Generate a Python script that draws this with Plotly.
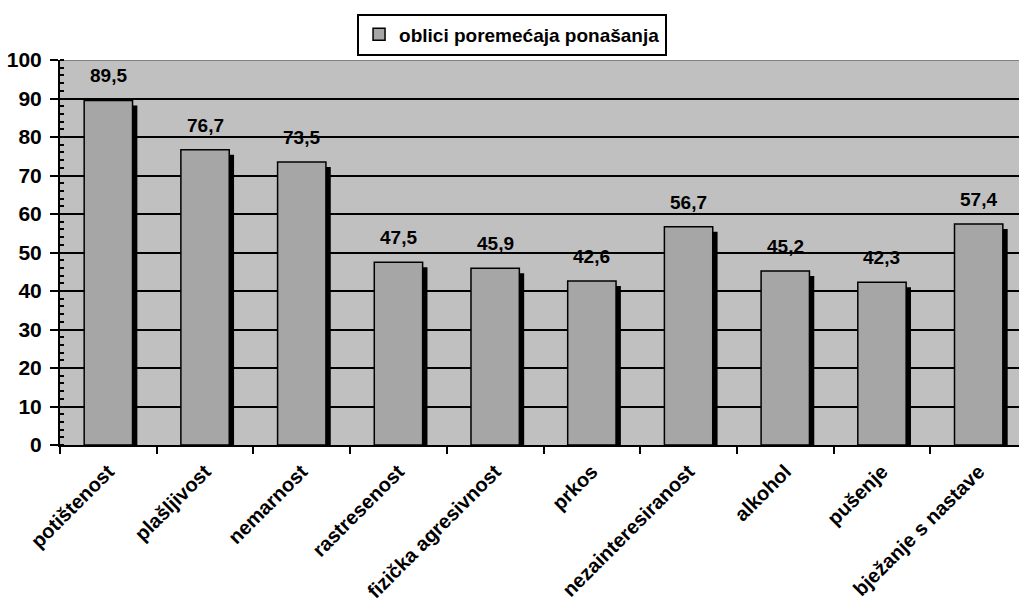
import plotly.graph_objects as go

# Oblici poremećaja ponašanja (%)
categories = [
    "potištenost", "plašljivost", "nemarnost", "rastresenost",
    "fizička agresivnost", "prkos", "nezainteresiranost", "alkohol",
    "pušenje", "bježanje s nastave",
]
values = [89.5, 76.7, 73.5, 47.5, 45.9, 42.6, 56.7, 45.2, 42.3, 57.4]
series_name = "oblici poremećaja ponašanja"

FONT = "Liberation Sans, Arial, sans-serif"
BAR_FILL = "#A6A6A6"
PLOT_BG = "#C0C0C0"
SHADOW_DROP = 1.3  # shadow starts slightly below each bar top (axis units)

fig = go.Figure()

# dark drop shadow on the right of every bar
fig.add_trace(go.Bar(
    x=categories,
    y=[v - SHADOW_DROP for v in values],
    offset=0.235,
    width=0.065,
    marker=dict(color="black", line=dict(width=0)),
    showlegend=False,
    hoverinfo="skip",
))

# main bars
fig.add_trace(go.Bar(
    x=categories,
    y=values,
    name=series_name,
    offset=-0.25,
    width=0.5,
    marker=dict(color=BAR_FILL, line=dict(color="black", width=1.5)),
))

# value labels above the bars
for c, v in zip(categories, values):
    fig.add_annotation(
        x=c, y=v, text=f"{v:.1f}".replace(".", ","),
        showarrow=False, yanchor="bottom", yshift=12,
        font=dict(family=FONT, size=19, color="black", weight="bold"),
    )

# top border of the plotting area
fig.add_shape(
    type="line", xref="paper", yref="y", x0=0, x1=1, y0=100, y1=100,
    line=dict(color="#808080", width=2), layer="between",
)

fig.update_layout(
    width=1019, height=614,
    margin=dict(l=60, r=0, t=60, b=169, autoexpand=False),
    paper_bgcolor="white",
    plot_bgcolor=PLOT_BG,
    barmode="overlay",
    font=dict(family=FONT, size=19, color="black", weight="bold"),
    separators=",.",
    showlegend=True,
    legend=dict(
        xref="container", yref="container",
        x=0.5025, y=0.978, xanchor="center", yanchor="top",
        bgcolor="white", bordercolor="black", borderwidth=2,
        font=dict(family=FONT, size=19, color="black", weight="bold"),
        itemwidth=30,
        tracegroupgap=0,
    ),
    xaxis=dict(
        type="category",
        range=[-0.5, 9.417],
        showgrid=False,
        showline=True, linecolor="black", linewidth=2,
        ticks="outside", tickson="boundaries", ticklen=7,
        tickcolor="black", tickwidth=2,
        tickangle=-45,
        ticklabelstandoff=5,
        automargin=False,
        tickfont=dict(family=FONT, size=20, color="black", weight="bold"),
    ),
    yaxis=dict(
        range=[0, 100],
        tickmode="linear", tick0=0, dtick=10,
        showgrid=True, gridcolor="black", gridwidth=2,
        zeroline=False,
        showline=True, linecolor="black", linewidth=2,
        ticks="outside", ticklen=8, tickcolor="black", tickwidth=2,
        ticklabelstandoff=4,
        automargin=False,
        minor=dict(dtick=2, ticks="inside", ticklen=4,
                   tickcolor="black", tickwidth=2, showgrid=False),
        tickfont=dict(family=FONT, size=21, color="black", weight="bold"),
    ),
)

fig.write_html("out.html")
